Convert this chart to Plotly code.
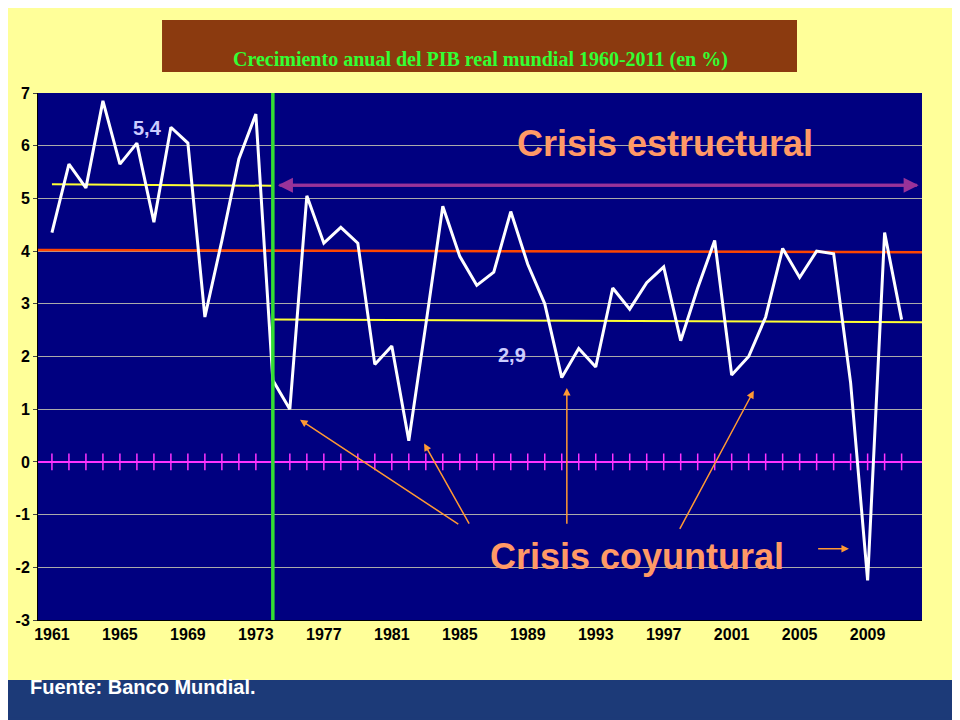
import plotly.graph_objects as go

years = list(range(1961, 2012))
growth = [4.35, 5.65, 5.2, 6.85, 5.65, 6.05, 4.55, 6.35, 6.05, 2.75,
          4.2, 5.75, 6.6, 1.55, 1.0, 5.05, 4.15, 4.45, 4.15, 1.85,
          2.2, 0.4, 2.6, 4.85, 3.9, 3.35, 3.6, 4.75, 3.75, 3.0,
          1.6, 2.15, 1.8, 3.3, 2.9, 3.4, 3.7, 2.3, 3.3, 4.2,
          1.65, 2.0, 2.75, 4.05, 3.5, 4.0, 3.95, 1.5, -2.25, 4.35, 2.7]
tick_years = list(range(1961, 2012, 4))
y_ticks = list(range(-3, 8))

fig = go.Figure()
X0, X1 = 1960.18, 2012.2
fig.add_trace(go.Scatter(x=[X0, X1], y=[0, 0], mode="lines", line=dict(color="#FF33FF", width=2), hoverinfo="skip"))
fig.add_trace(go.Scatter(x=years, y=[0]*len(years), mode="markers",
                         marker=dict(symbol="line-ns", size=12, line=dict(color="#FF33FF", width=1.5)), hoverinfo="skip"))
fig.add_trace(go.Scatter(x=[X0, X1], y=[4.02, 3.98], mode="lines", line=dict(color="#FF4500", width=2.5)))
fig.add_trace(go.Scatter(x=[1961, 1974], y=[5.27, 5.24], mode="lines", line=dict(color="#FFFF33", width=2)))
fig.add_trace(go.Scatter(x=[1974, X1], y=[2.7, 2.65], mode="lines", line=dict(color="#FFFF33", width=2)))
fig.add_trace(go.Scatter(x=years, y=growth, mode="lines", line=dict(color="white", width=3)))
fig.add_trace(go.Scatter(x=[1974, 1974], y=[-3, 7], mode="lines", line=dict(color="#33DD33", width=3.5)))

ann = []
for a, b in [(X1 - 0.2, 1974.3), (1974.3, X1 - 0.2)]:
    ann.append(dict(x=a, y=5.25, ax=b, ay=5.25, xref="x", yref="y", axref="x", ayref="y",
                    showarrow=True, arrowhead=2, arrowsize=1, arrowwidth=3, arrowcolor="#993399", text=""))
for (tx, ty, hx, hy) in [(1985.0, -1.2, 1975.6, 0.8), (1985.6, -1.2, 1982.9, 0.35),
                         (1991.3, -1.2, 1991.3, 1.4), (1997.9, -1.3, 2002.3, 1.35),
                         (2006.0, -1.65, 2007.9, -1.65)]:
    ann.append(dict(x=hx, y=hy, ax=tx, ay=ty, xref="x", yref="y", axref="x", ayref="y",
                    showarrow=True, arrowhead=2, arrowsize=1, arrowwidth=1.5, arrowcolor="#FF9933", text=""))
ann += [
    dict(x=1966.6, y=6.34, text="5,4", showarrow=False, font=dict(size=20, color="#CCCCFF", family="Arial", weight="bold")),
    dict(x=1988.1, y=2.03, text="2,9", showarrow=False, font=dict(size=20, color="#CCCCFF", family="Arial", weight="bold")),
    dict(x=1997.1, y=6.05, text="Crisis estructural", showarrow=False, font=dict(size=36, color="#FF9966", family="Arial", weight="bold")),
    dict(x=1995.4, y=-1.8, text="Crisis coyuntural", showarrow=False, font=dict(size=36, color="#FF9966", family="Arial", weight="bold")),
    dict(x=0.5, y=1.089, xref="paper", yref="paper", showarrow=False,
         text="Crecimiento anual del PIB real mundial 1960-2011 (en %)",
         font=dict(size=20, color="#33FF33", family="Liberation Serif", weight="bold")),
    dict(x=-0.0113, y=-0.1518, xref="paper", yref="paper", xanchor="left", showarrow=False,
         text="Fuente: Banco Mundial.", font=dict(size=20, color="white", family="Arial", weight="bold")),
]

shapes = [
    dict(type="rect", xref="paper", yref="paper", x0=0.1403, x1=0.8586, y0=1.0398, y1=1.1385,
         fillcolor="#8B3A0F", line=dict(width=0), layer="below"),
    dict(type="rect", xref="paper", yref="paper", x0=-0.05, x1=1.06, y0=-0.2, y1=-0.1139,
         fillcolor="#1C3A78", line=dict(width=0), layer="below"),
    dict(type="rect", xref="paper", yref="paper", x0=-0.043, x1=1.043, y0=-0.19, y1=1.176,
         fillcolor="rgba(0,0,0,0)", line=dict(width=6, color="#1C3A78"), layer="below"),
]

fig.update_layout(
    width=960, height=720, showlegend=False,
    paper_bgcolor="#FFFF99", plot_bgcolor="#000080",
    margin=dict(l=30, r=46, t=85, b=108, autoexpand=False),
    annotations=ann, shapes=shapes,
    xaxis=dict(range=[X0, X1], tickvals=tick_years, ticktext=[str(y) for y in tick_years],
               showgrid=False, zeroline=False, showline=True, linecolor="black", automargin=False,
               tickfont=dict(size=16, family="Arial", color="black", weight="bold")),
    yaxis=dict(range=[-3, 7], tickvals=y_ticks, ticktext=[str(v) for v in y_ticks],
               showgrid=True, gridcolor="#AAAAAA", gridwidth=1, automargin=False,
               zeroline=False, showline=True, linecolor="black", ticks="outside", ticklen=4,
               tickfont=dict(size=16, family="Arial", color="black", weight="bold")),
)
fig.write_html("out.html")
